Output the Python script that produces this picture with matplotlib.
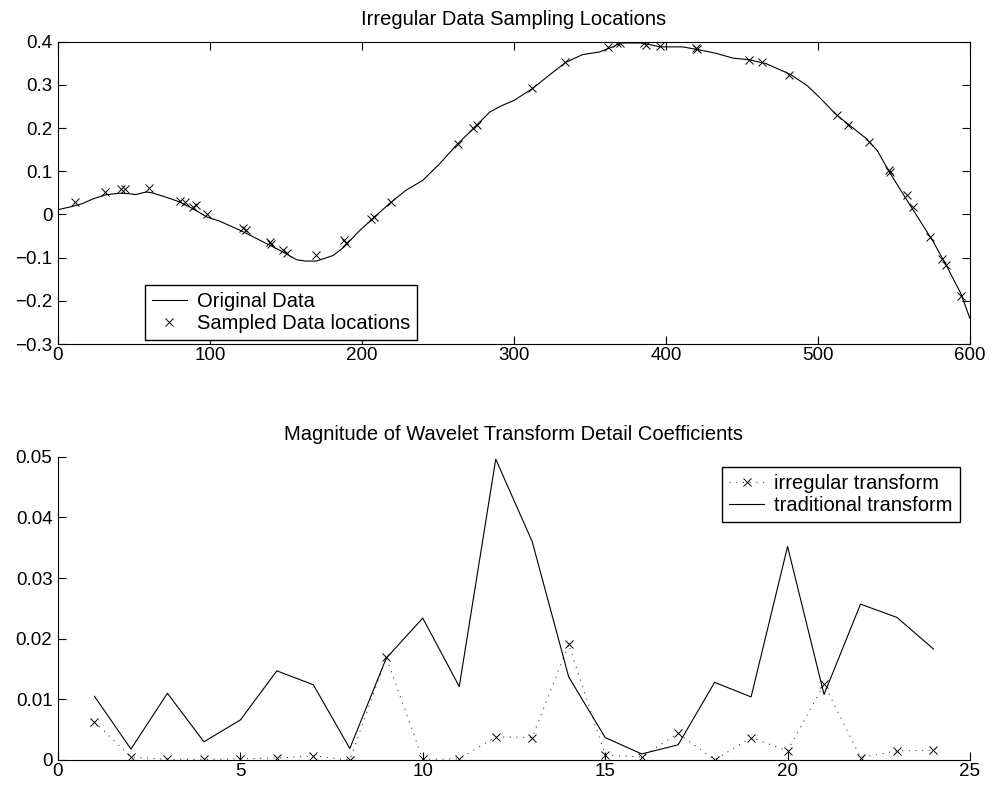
import matplotlib
matplotlib.use("Agg")
import matplotlib.pyplot as plt
from matplotlib.ticker import FuncFormatter

plt.rcParams["font.family"] = ["Liberation Sans", "DejaVu Sans"]

# original signal
orig_x = [0, 10, 16, 23, 32, 41, 47, 51, 58, 62, 71, 80, 89, 98, 106, 120, 133,
          146, 157, 163, 170, 176, 181, 188, 198, 207, 218, 229, 240, 251, 262,
          273, 284, 292, 300, 312, 323, 334, 345, 356, 365, 370, 383, 387, 396,
          411, 422, 433, 444, 455, 466, 482, 493, 501, 512, 521, 532, 539, 547,
          558, 567, 576, 585, 594, 600]
orig_y = [0.011, 0.019, 0.025, 0.036, 0.046, 0.049, 0.048, 0.046, 0.052, 0.050,
          0.040, 0.029, 0.013, -0.006, -0.015, -0.037, -0.060, -0.083, -0.105,
          -0.108, -0.108, -0.101, -0.095, -0.076, -0.039, -0.010, 0.025, 0.056,
          0.079, 0.117, 0.160, 0.198, 0.237, 0.252, 0.264, 0.291, 0.322, 0.352,
          0.370, 0.376, 0.388, 0.397, 0.397, 0.395, 0.388, 0.388, 0.381, 0.373,
          0.362, 0.358, 0.349, 0.324, 0.298, 0.271, 0.231, 0.206, 0.175, 0.148,
          0.098, 0.036, -0.014, -0.064, -0.122, -0.183, -0.241]

# sampled locations
samp_x = [11, 31, 41.7, 43.9, 59.7, 80, 83.4, 88.5, 90.5, 98.3, 122, 124, 139.3,
          140.4, 148, 150.8, 169.6, 188, 189.2, 205.8, 207.8, 219, 263.3, 273.2,
          275.4, 311.9, 333.8, 361.9, 367.8, 369.6, 385.4, 386.7, 395.9, 419.6,
          420.5, 454.7, 463.3, 480.8, 512.2, 519.9, 533.5, 546.7, 547.7, 558.3,
          562.7, 573.6, 581.8, 584, 593.8]
samp_y = [0.029, 0.053, 0.058, 0.058, 0.061, 0.032, 0.029, 0.017, 0.021, 0.0,
          -0.032, -0.036, -0.064, -0.068, -0.082, -0.089, -0.093, -0.060, -0.066,
          -0.010, -0.005, 0.029, 0.163, 0.200, 0.207, 0.292, 0.353, 0.387, 0.396,
          0.398, 0.396, 0.393, 0.389, 0.385, 0.382, 0.358, 0.352, 0.324, 0.231,
          0.207, 0.167, 0.102, 0.099, 0.044, 0.017, -0.052, -0.104, -0.118, -0.190]

# wavelet detail coefficients
coef_idx = list(range(1, 25))
irregular = [0.0063, 0.0005, 0.0001, 0.0001, 0.0002, 0.0003, 0.0007, 0.0, 0.0169,
             0.0001, 0.0002, 0.0038, 0.0037, 0.0191, 0.0008, 0.0005, 0.0044, 0.0,
             0.0037, 0.0015, 0.0125, 0.0004, 0.0015, 0.0016]
traditional = [0.0105, 0.0018, 0.0110, 0.0030, 0.0066, 0.0147, 0.0124, 0.0019,
               0.0168, 0.0234, 0.0121, 0.0496, 0.0360, 0.0137, 0.0037, 0.0010,
               0.0025, 0.0128, 0.0104, 0.0352, 0.0108, 0.0257, 0.0235, 0.0183]

fmt = FuncFormatter(lambda v, p: f"{round(v, 6):g}".replace("-", "\u2212"))
tick_fs = 13.5
text_fs = 14.5

legend_kw = dict(fontsize=text_fs, frameon=True, fancybox=False, edgecolor="black",
                 framealpha=1, borderpad=0.35, handlelength=1.75, handletextpad=0.5,
                 labelspacing=0.15, borderaxespad=0.0, markerscale=1.0)

fig = plt.figure(figsize=(9.93, 7.91), dpi=100)

ax1 = fig.add_axes([0.0584, 0.5651, 0.9184, 0.3822])
ax1.plot(orig_x, orig_y, "k-", lw=0.8, label="Original Data")
ax1.plot(samp_x, samp_y, "kx", ms=6, mew=0.7, label="Sampled Data locations")
ax1.set_xlim(0, 600)
ax1.set_ylim(-0.3, 0.4)
ax1.set_xticks(range(0, 601, 100))
ax1.set_yticks([-0.3, -0.2, -0.1, 0, 0.1, 0.2, 0.3, 0.4])
ax1.yaxis.set_major_formatter(fmt)
ax1.tick_params(direction="in", top=True, right=True, labelsize=tick_fs, length=6)
ax1.tick_params(axis="x", pad=2)
ax1.tick_params(axis="y", pad=4)
ax1.set_title("Irregular Data Sampling Locations", fontsize=text_fs, pad=12)
ax1.legend(loc="lower left", bbox_to_anchor=(0.095, 0.013), **legend_kw)

ax2 = fig.add_axes([0.0584, 0.0392, 0.9184, 0.3834])
ax2.plot(coef_idx, irregular, color="#444444", ls=(0, (1, 5)), lw=0.8, marker="x",
         ms=6, mew=0.7, mec="black", label="irregular transform")
ax2.plot(coef_idx, traditional, "k-", lw=0.8, label="traditional transform")
ax2.set_xlim(0, 25)
ax2.set_ylim(0, 0.05)
ax2.set_xticks(range(0, 26, 5))
ax2.set_yticks([0, 0.01, 0.02, 0.03, 0.04, 0.05])
ax2.yaxis.set_major_formatter(fmt)
ax2.spines["top"].set_visible(False)
ax2.spines["right"].set_visible(False)
ax2.tick_params(direction="in", labelsize=tick_fs, length=6)
ax2.tick_params(axis="x", pad=2)
ax2.tick_params(axis="y", pad=4)
ax2.set_title("Magnitude of Wavelet Transform Detail Coefficients", fontsize=text_fs, pad=12)
ax2.legend(loc="upper right", bbox_to_anchor=(0.989, 0.966), **legend_kw)

fig.savefig("out.png", dpi=100)
